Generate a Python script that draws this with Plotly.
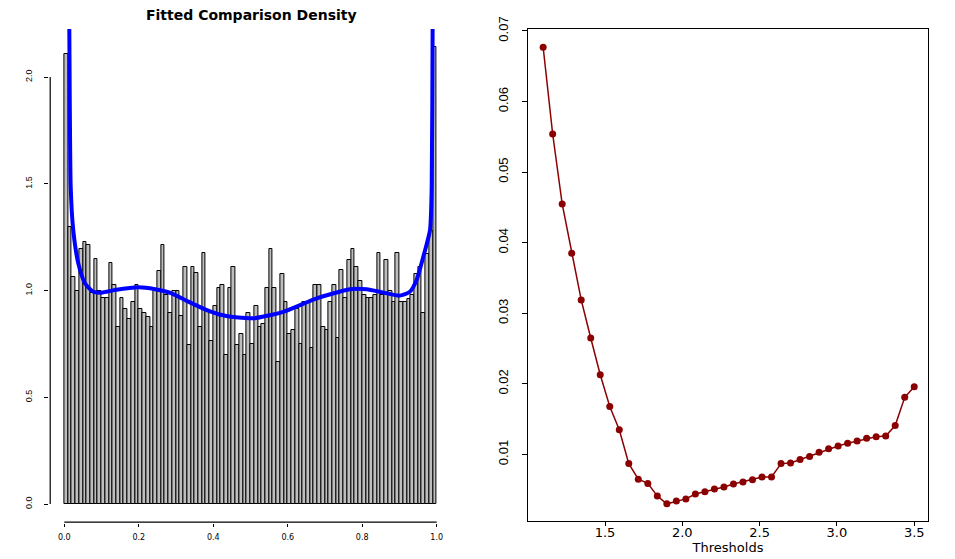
import plotly.graph_objects as go

# ---- Left panel: histogram (density) of 100 bins on [0,1] ----
bin_left = [i / 100 for i in range(100)]
hist_density = [
    2.106, 1.296, 1.062, 0.998, 1.194, 1.227, 1.212, 0.990, 1.146, 0.998,
    0.963, 0.963, 1.127, 1.028, 0.830, 0.963, 0.912, 0.865, 0.946, 1.028,
    0.912, 0.893, 0.877, 0.827, 1.000, 1.093, 1.212, 0.979, 0.895, 0.997,
    0.997, 0.879, 1.111, 0.747, 1.111, 1.080, 0.831, 1.177, 0.908, 0.762,
    0.929, 1.011, 1.027, 0.697, 1.011, 1.110, 0.746, 0.796, 0.697, 0.895,
    0.748, 0.927, 0.829, 0.845, 1.012, 1.193, 1.012, 0.665, 1.078, 0.946,
    0.796, 0.814, 0.912, 0.748, 0.946, 0.946, 0.731, 1.028, 1.028, 0.829,
    0.813, 0.946, 1.028, 0.779, 1.094, 0.963, 1.144, 1.193, 1.112, 1.045,
    0.979, 0.963, 0.963, 0.979, 1.177, 0.979, 1.143, 0.996, 0.946, 1.177,
    0.946, 0.946, 0.962, 0.979, 1.077, 1.110, 0.894, 1.170, 1.280, 2.140,
]
bin_centers = [b + 0.005 for b in bin_left]

fit_x = [0.0115, 0.0135, 0.0172, 0.024, 0.0376, 0.0556, 0.078, 0.100, 0.136,
         0.199, 0.244, 0.288, 0.333, 0.378, 0.423, 0.467, 0.510, 0.588,
         0.678, 0.767, 0.812, 0.857, 0.901, 0.928, 0.946, 0.964, 0.982,
         0.9866, 0.9890, 0.9905]
fit_y = [2.60, 2.22, 1.486, 1.283, 1.127, 1.034, 0.994, 0.990, 1.002,
         1.015, 1.006, 0.987, 0.948, 0.912, 0.885, 0.873, 0.870, 0.900,
         0.963, 1.006, 1.006, 0.990, 0.976, 0.994, 1.049, 1.158, 1.283,
         1.486, 2.22, 2.60]

left_xticks = [0.0, 0.2, 0.4, 0.6, 0.8, 1.0]
left_xlabels = ["0.0", "0.2", "0.4", "0.6", "0.8", "1.0"]
left_yticks = [0.0, 0.5, 1.0, 1.5, 2.0]
left_ylabels = ["0.0", "0.5", "1.0", "1.5", "2.0"]

# ---- Right panel: error vs thresholds ----
thresholds = [1.1 + i * 2.4 / 39 for i in range(40)]
errors = [
    0.0677, 0.0554, 0.0455, 0.0385, 0.0319, 0.0265, 0.0213, 0.0168, 0.0135, 0.0087,
    0.0065, 0.0059, 0.0041, 0.0030, 0.0034, 0.0037, 0.0044, 0.0047, 0.0051, 0.0054,
    0.0058, 0.0061, 0.0064, 0.0068, 0.0068, 0.0087, 0.0088, 0.0093, 0.0097, 0.0103,
    0.0108, 0.0112, 0.0116, 0.0119, 0.0123, 0.0125, 0.0126, 0.0141, 0.0181, 0.0196,
]
right_xticks = [1.5, 2.0, 2.5, 3.0, 3.5]
right_xlabels = ["1.5", "2.0", "2.5", "3.0", "3.5"]
right_yticks = [0.01, 0.02, 0.03, 0.04, 0.05, 0.06, 0.07]
right_ylabels = ["0.01", "0.02", "0.03", "0.04", "0.05", "0.06", "0.07"]

W, H = 955, 559
OFF = 8  # page body margin offset


def fx(px):
    return (px - OFF) / W


def fy(py):
    return 1 - (py - OFF) / H


fig = go.Figure()

fig.add_trace(go.Bar(
    x=bin_centers, y=hist_density, width=0.01,
    marker=dict(color="#BEBEBE", line=dict(color="black", width=1)),
    xaxis="x", yaxis="y", showlegend=False, hoverinfo="skip"))

fig.add_trace(go.Scatter(
    x=fit_x, y=fit_y, mode="lines",
    line=dict(color="#0000FF", width=4, shape="spline", smoothing=0.6),
    xaxis="x", yaxis="y", showlegend=False, cliponaxis=True))

fig.add_trace(go.Scatter(
    x=thresholds, y=errors, mode="lines+markers",
    line=dict(color="#8B0000", width=1.5),
    marker=dict(color="#8B0000", size=7),
    xaxis="x2", yaxis="y2", showlegend=False))

sans = "Liberation Sans, Arial, Helvetica"
wide = "DejaVu Sans, Liberation Sans, Arial"

fig.update_layout(
    template="none",
    width=W, height=H,
    margin=dict(l=0, r=0, t=0, b=0, pad=0),
    paper_bgcolor="white", plot_bgcolor="white",
    bargap=0,
    xaxis=dict(domain=[fx(49.4), fx(451.6)], range=[-0.04, 1.04], automargin=False,
               tickvals=left_xticks, ticktext=left_xlabels,
               ticks="outside", ticklen=3, tickcolor="black", tickwidth=1,
               showline=False, showgrid=False, zeroline=False,
               tickfont=dict(family=wide, size=8, color="black"),
               ticklabelstandoff=4),
    yaxis=dict(domain=[fy(522.7), fy(29)], range=[-0.0876, 2.2248], automargin=False,
               tickvals=left_yticks, ticktext=left_ylabels, tickangle=-90,
               ticks="outside", ticklen=4, tickcolor="black", tickwidth=1,
               showline=False, showgrid=False, zeroline=False,
               tickfont=dict(family=sans, size=9, color="black"),
               ticklabelstandoff=9),
    xaxis2=dict(domain=[fx(528), fx(928)], range=[1.002, 3.589], anchor="y2", automargin=False,
                tickvals=right_xticks, ticktext=right_xlabels,
                ticks="outside", ticklen=4, tickcolor="black", tickwidth=1,
                showline=True, mirror=True, linecolor="black", linewidth=1,
                showgrid=False, zeroline=False,
                tickfont=dict(family=wide, size=13, color="black"),
                ticklabelstandoff=-5,
                title=dict(text="Thresholds", standoff=0,
                           font=dict(family=wide, size=13, color="black"))),
    yaxis2=dict(domain=[fy(521), fy(29)], range=[0.00057, 0.07028], anchor="x2",
                automargin=False,
                tickvals=right_yticks, ticktext=right_ylabels, tickangle=-90,
                ticks="outside", ticklen=5, tickcolor="black", tickwidth=1,
                showline=True, mirror=True, linecolor="black", linewidth=1,
                showgrid=False, zeroline=False,
                tickfont=dict(family=sans, size=13, color="black"),
                ticklabelstandoff=9),
    shapes=[
        dict(type="line", xref="paper", yref="y", x0=fx(50.2), x1=fx(50.2), y0=0, y1=2,
             line=dict(color="black", width=1.2)),
        dict(type="line", xref="x", yref="paper", x0=0, x1=1, y0=fy(522.2), y1=fy(522.2),
             line=dict(color="black", width=1.2)),
    ],
    annotations=[
        dict(text="<b>Fitted Comparison Density</b>", xref="paper", yref="paper",
             x=fx(251), y=fy(15), xanchor="center", yanchor="middle",
             showarrow=False, font=dict(family=wide, size=14, color="black")),
    ],
)

fig.write_html("out.html")
